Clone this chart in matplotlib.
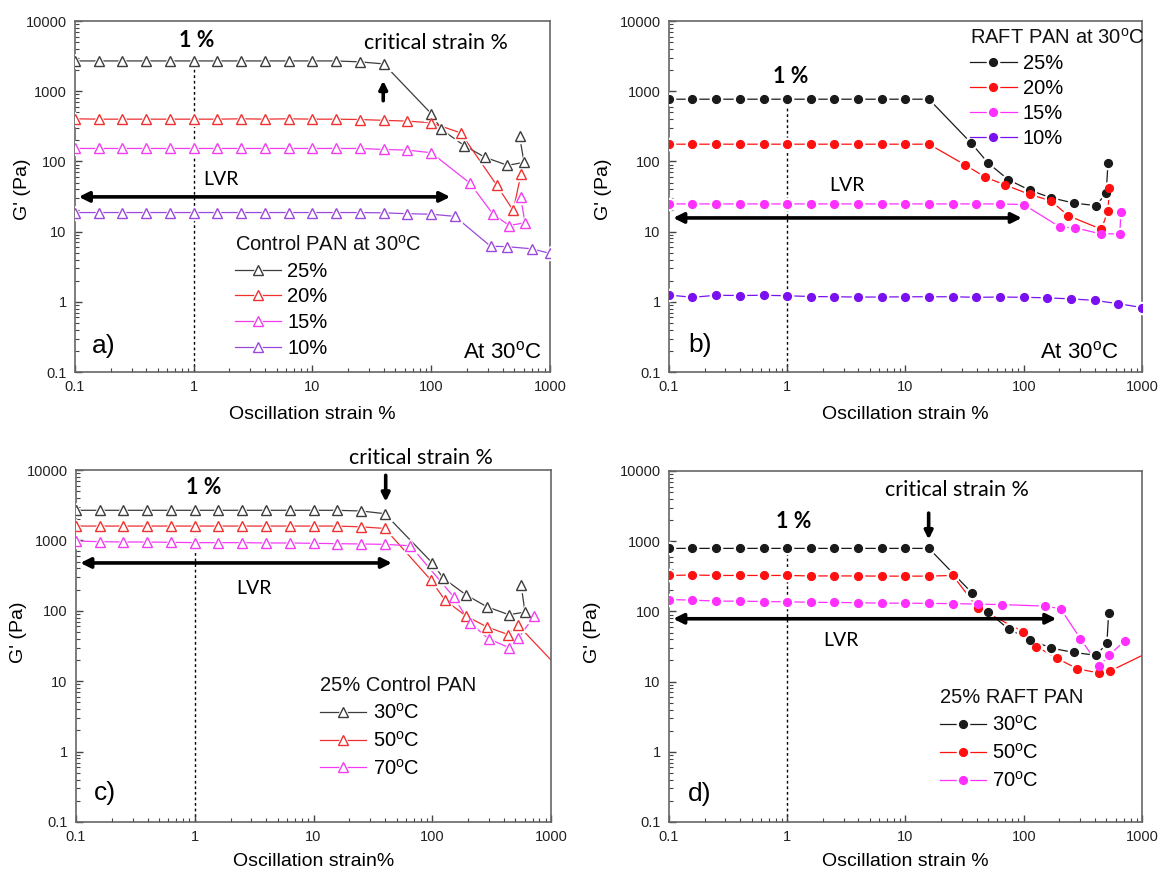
import matplotlib
matplotlib.use('Agg')
import matplotlib.pyplot as plt
from matplotlib.ticker import FuncFormatter, LogLocator, NullFormatter
from matplotlib.legend_handler import HandlerTuple

plt.rcParams['font.family'] = ['Liberation Sans', 'DejaVu Sans']
plt.rcParams['mathtext.fontset'] = 'custom'
plt.rcParams['mathtext.rm'] = 'Liberation Sans'
plt.rcParams['mathtext.it'] = 'Liberation Sans:italic'

# strain points (%) shared by the flat part of every sweep
lo12 = [0.1, 0.158, 0.251, 0.398, 0.631, 1.0, 1.58, 2.51, 3.98, 6.31, 10.0, 15.8]
lo13 = lo12 + [25.1]

# a) control PAN, concentrations at 30 C (open triangles)
a25_x = lo13 + [39.8, 100, 122, 190, 282, 439, 605, 555]
a25_y = [2700] * 12 + [2620, 2450, 480, 285, 168, 115, 88, 97, 228]
a20_x = lo13 + [39.8, 63.1, 100, 177, 356, 491, 570]
a20_y = [405, 400, 400, 400, 400, 400, 400, 405, 400, 405, 400, 400, 395,
         385, 375, 355, 255, 46, 20, 66]
a15_x = lo13 + [39.8, 63.1, 100, 212, 329, 454, 617, 566]
a15_y = [153] * 13 + [148, 145, 133, 49, 18, 12.2, 13.4, 31]
a10_x = lo13 + [39.8, 63.1, 100, 158, 316, 437, 700, 1000]
a10_y = [18.7] * 13 + [18.5, 18, 17.7, 16.5, 6.2, 6.1, 5.7, 4.9]

# b) RAFT PAN, concentrations at 30 C (filled circles)
b25_x = lo12 + [36, 50, 74, 112, 169, 265, 407, 498, 516]
b25_y = [770] * 12 + [182, 95, 55, 39, 30.5, 25.5, 23.5, 35, 95]
b20_x = lo12 + [32, 47, 70, 112, 169, 239, 454, 516, 531]
b20_y = [176] * 12 + [89, 60, 46, 34, 27.5, 16.8, 10.8, 19.8, 42]
b15_x = lo13 + [39.8, 63.1, 100, 203, 274, 447, 650, 663]
b15_y = [24.8] * 15 + [24.3, 11.6, 11.3, 9.3, 9.3, 19]
b10_x = lo13 + [39.8, 63.1, 100, 158, 251, 398, 631, 1000]
b10_y = [1.25, 1.16, 1.24, 1.23, 1.24, 1.22, 1.19, 1.18, 1.17, 1.17, 1.18, 1.18, 1.18,
         1.16, 1.17, 1.16, 1.14, 1.10, 1.05, 0.94, 0.83]

# c) 25% control PAN at three temperatures
c30_x = lo13 + [39.8, 100, 124, 193, 289, 443, 604, 561]
c30_y = [2680] * 12 + [2620, 2400, 480, 290, 168, 114, 88, 96, 229]
c50_x = lo13 + [39.8, 97, 128, 193, 289, 436, 530, 1000]
c50_y = [1600] * 12 + [1560, 1480, 276, 142, 84, 59, 46, 62, 20]
c70_x = lo13 + [39.8, 65.5, 151, 207, 298, 443, 530, 723]
c70_y = [980, 960, 950, 950, 940, 930, 930, 930, 920, 920, 910, 900, 890,
         880, 840, 159, 68, 40, 30, 41, 84]

# d) 25% RAFT PAN at three temperatures
d30_x = lo12 + [36.4, 50, 74.6, 114, 170, 266, 409, 505, 523]
d30_y = [790] * 12 + [184, 98, 56, 39.5, 30, 26, 23.7, 35, 96]
d50_x = lo13 + [40.8, 98, 128, 191, 284, 431, 535, 1000]
d50_y = [325, 330, 325, 325, 325, 325, 320, 320, 320, 318, 318, 318, 325,
         112, 51.5, 31.6, 21.5, 15.2, 13.3, 14.1, 23.5]
d70_x = lo13 + [40.8, 65, 152, 205, 301, 436, 527, 713]
d70_y = [147, 145, 140, 140, 138, 137, 135, 134, 133, 131, 131, 130, 129,
         127, 125, 119, 109, 41, 16.6, 23.7, 38]

DEG = '$^\\mathrm{o}$'
NOTE_FONT = 'Lato'


def series(ax, x, y, color, marker, filled, skip_last=False):
    n = len(x) - 1 if skip_last else len(x)
    ms = 5.6 if marker == 'o' else 6.8
    line, = ax.plot(x, y, color=color, lw=0.9, zorder=2)
    halo, = ax.plot(x[:n], y[:n], ls='none', marker=marker, ms=ms + 3.2,
                    mfc='white', mec='white', zorder=3)
    mk, = ax.plot(x[:n], y[:n], ls='none', marker=marker, ms=ms,
                  mfc=color if filled else 'white', mec=color, mew=1.0, zorder=4)
    return (line, halo, mk)


def setup(ax, xlabel, ylab_pos, xlab_y):
    ax.set_xscale('log')
    ax.set_yscale('log')
    ax.set_xlim(0.1, 1000)
    ax.set_ylim(0.1, 10000)
    fmt = FuncFormatter(lambda v, p: f'{v:g}')
    ax.xaxis.set_major_locator(LogLocator(base=10, numticks=10))
    ax.yaxis.set_major_locator(LogLocator(base=10, numticks=10))
    ax.xaxis.set_major_formatter(fmt)
    ax.yaxis.set_major_formatter(fmt)
    ax.xaxis.set_minor_formatter(NullFormatter())
    ax.yaxis.set_minor_formatter(NullFormatter())
    ax.tick_params(which='both', direction='in', top=False, right=False,
                   color='#444', labelsize=10.5, labelcolor='#222', pad=6)
    ax.tick_params(which='major', length=5, width=1)
    ax.tick_params(which='minor', length=3, width=0.8)
    for s in ax.spines.values():
        s.set_color('#666')
        s.set_linewidth(1.2)
    ax.set_xlabel(xlabel, fontsize=14)
    ax.set_ylabel("G' (Pa)", fontsize=14)
    ax.yaxis.set_label_coords(*ylab_pos)
    ax.xaxis.set_label_coords(0.5, xlab_y)


def legend(ax, handles, labels, title, anchor, spacing):
    leg = ax.legend(handles, labels, title=title, loc='upper left', bbox_to_anchor=anchor,
                    frameon=False, fontsize=14.5, title_fontsize=14.5, handlelength=2.3,
                    handletextpad=0.3, labelspacing=spacing, borderpad=0, borderaxespad=0,
                    alignment='left', handler_map={tuple: HandlerTuple(ndivide=1, pad=0)})
    leg.get_title().set_color('#111')


def lvr(ax, x0, x1, y, tx, ty):
    ax.annotate('', xy=(x1, y), xytext=(x0, y), xycoords='axes fraction',
                arrowprops=dict(arrowstyle='<|-|>', color='black', lw=2.6,
                                mutation_scale=15, shrinkA=0, shrinkB=0), zorder=5)
    ax.text(tx, ty, 'LVR', transform=ax.transAxes, ha='center', va='center',
            fontsize=14, family=NOTE_FONT)


def crit_arrow(ax, x, y0, y1):
    ax.annotate('', xy=(x, y1), xytext=(x, y0), xycoords='axes fraction',
                arrowprops=dict(arrowstyle='-|>', color='black', lw=2.6,
                                mutation_scale=12, shrinkA=0, shrinkB=0), zorder=5)


def note(ax, x, y, s, **kw):
    ax.text(x, y, s, transform=ax.transAxes, ha='center', va='center',
            family=NOTE_FONT, fontsize=15.5, **kw)


fig = plt.figure(figsize=(11.59, 8.69), dpi=100)
axa = fig.add_axes([0.0647, 0.5719, 0.4098, 0.4039])
axb = fig.add_axes([0.5772, 0.5719, 0.4081, 0.4039])
axc = fig.add_axes([0.0656, 0.0541, 0.4098, 0.4050])
axd = fig.add_axes([0.5772, 0.0541, 0.4081, 0.4039])

K_T, R_T, M_T, P_T = '#3c3c3c', '#ee3030', '#f23cf2', '#9a48dc'
K_C, R_C, M_C, P_C = '#1a1a1a', '#ff1010', '#ff30ff', '#7a10f0'

# ---- a)
setup(axa, 'Oscillation strain %', (-0.092, 0.52), -0.097)
axa.vlines(1, 0.1, 2700, colors='black', lw=1, linestyles=(0, (2, 2)), zorder=1)
h = [series(axa, a25_x, a25_y, K_T, '^', False),
     series(axa, a20_x, a20_y, R_T, '^', False),
     series(axa, a15_x, a15_y, M_T, '^', False),
     series(axa, a10_x, a10_y, P_T, '^', False)]
legend(axa, h, ['25%', '20%', '15%', '10%'], 'Control PAN at 30' + DEG + 'C', (0.337, 0.39), 0.33)
note(axa, 0.257, 0.945, '1 %', fontweight='bold')
note(axa, 0.76, 0.936, 'critical strain %')
crit_arrow(axa, 0.649, 0.773, 0.83)
lvr(axa, 0.008, 0.79, 0.499, 0.308, 0.548)
axa.text(0.06, 0.075, 'a)', transform=axa.transAxes, ha='center', va='center', fontsize=19)
axa.text(0.983, 0.055, 'At 30' + DEG + 'C', transform=axa.transAxes, ha='right', va='center', fontsize=16)

# ---- b)
setup(axb, 'Oscillation strain %', (-0.121, 0.52), -0.097)
axb.vlines(1, 0.1, 770, colors='black', lw=1, linestyles=(0, (2, 2)), zorder=1)
h = [series(axb, b25_x, b25_y, K_C, 'o', True),
     series(axb, b20_x, b20_y, R_C, 'o', True),
     series(axb, b15_x, b15_y, M_C, 'o', True),
     series(axb, b10_x, b10_y, P_C, 'o', True)]
legend(axb, h, ['25%', '20%', '15%', '10%'], 'RAFT PAN at 30' + DEG + 'C', (0.637, 0.98), 0.3)
note(axb, 0.257, 0.842, '1 %', fontweight='bold')
lvr(axb, 0.009, 0.746, 0.439, 0.376, 0.53)
axb.text(0.065, 0.076, 'b)', transform=axb.transAxes, ha='center', va='center', fontsize=19)
axb.text(0.951, 0.057, 'At 30' + DEG + 'C', transform=axb.transAxes, ha='right', va='center', fontsize=16)

# ---- c)
setup(axc, 'Oscillation strain%', (-0.104, 0.54), -0.088)
axc.vlines(1, 0.1, 1500, colors='black', lw=1, linestyles=(0, (2, 2)), zorder=1)
h = [series(axc, c30_x, c30_y, K_T, '^', False),
     series(axc, c50_x, c50_y, R_T, '^', False, skip_last=True),
     series(axc, c70_x, c70_y, M_T, '^', False)]
legend(axc, h, ['30' + DEG + 'C', '50' + DEG + 'C', '70' + DEG + 'C'], '25% Control PAN',
       (0.514, 0.414), 0.38)
note(axc, 0.269, 0.95, '1 %', fontweight='bold')
note(axc, 0.726, 1.034, 'critical strain %')
crit_arrow(axc, 0.652, 0.985, 0.91)
lvr(axc, 0.009, 0.665, 0.736, 0.374, 0.664)
axc.text(0.06, 0.083, 'c)', transform=axc.transAxes, ha='center', va='center', fontsize=19)

# ---- d)
setup(axd, 'Oscillation strain %', (-0.143, 0.54), -0.088)
axd.vlines(1, 0.1, 790, colors='black', lw=1, linestyles=(0, (2, 2)), zorder=1)
h = [series(axd, d30_x, d30_y, K_C, 'o', True),
     series(axd, d50_x, d50_y, R_C, 'o', True, skip_last=True),
     series(axd, d70_x, d70_y, M_C, 'o', True)]
legend(axd, h, ['30' + DEG + 'C', '50' + DEG + 'C', '70' + DEG + 'C'], '25% RAFT PAN',
       (0.572, 0.382), 0.4)
note(axd, 0.263, 0.856, '1 %', fontweight='bold')
note(axd, 0.608, 0.946, 'critical strain %')
crit_arrow(axd, 0.549, 0.88, 0.805)
lvr(axd, 0.009, 0.819, 0.579, 0.363, 0.518)
axd.text(0.065, 0.079, 'd)', transform=axd.transAxes, ha='center', va='center', fontsize=19)

fig.savefig('out.png', dpi=100)
